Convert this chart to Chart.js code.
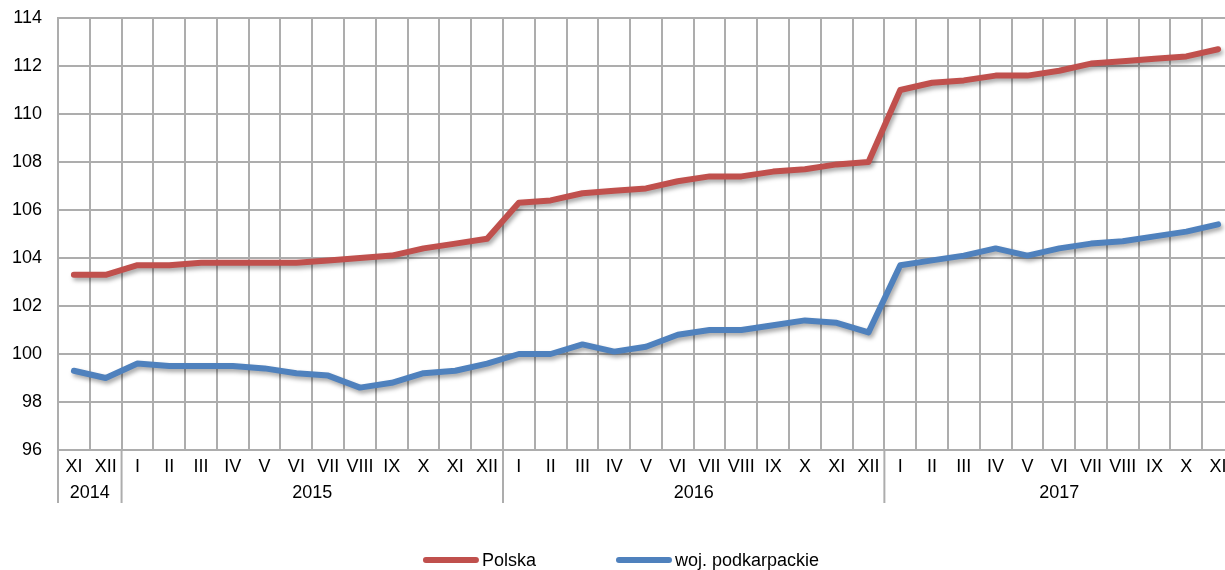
<!DOCTYPE html>
<html>
<head>
<meta charset="utf-8">
<script src="https://cdn.jsdelivr.net/npm/chart.js@4"></script>
<style>
  html, body { margin: 0; padding: 0; background: #fff; overflow: hidden; }
  #wrap { width: 1236px; height: 570px; }
</style>
</head>
<body>
<div id="wrap"><canvas id="chart"></canvas></div>
<script>
// months on the x axis, grouped by year
const months = ['XI', 'XII',
  'I', 'II', 'III', 'IV', 'V', 'VI', 'VII', 'VIII', 'IX', 'X', 'XI', 'XII',
  'I', 'II', 'III', 'IV', 'V', 'VI', 'VII', 'VIII', 'IX', 'X', 'XI', 'XII',
  'I', 'II', 'III', 'IV', 'V', 'VI', 'VII', 'VIII', 'IX', 'X', 'XI'];
const years = ['2014', '2015', '2016', '2017'];
const yearSpans = [2, 12, 12, 11];

const polska = [103.3, 103.3,
  103.7, 103.7, 103.8, 103.8, 103.8, 103.8, 103.9, 104.0, 104.1, 104.4, 104.6, 104.8,
  106.3, 106.4, 106.7, 106.8, 106.9, 107.2, 107.4, 107.4, 107.6, 107.7, 107.9, 108.0,
  111.0, 111.3, 111.4, 111.6, 111.6, 111.8, 112.1, 112.2, 112.3, 112.4, 112.7];
const podkarpackie = [99.3, 99.0,
  99.6, 99.5, 99.5, 99.5, 99.4, 99.2, 99.1, 98.6, 98.8, 99.2, 99.3, 99.6,
  100.0, 100.0, 100.4, 100.1, 100.3, 100.8, 101.0, 101.0, 101.2, 101.4, 101.3, 100.9,
  103.7, 103.9, 104.1, 104.4, 104.1, 104.4, 104.6, 104.7, 104.9, 105.1, 105.4];

const gridColor = '#ADADAD';
const fontFamily = "'Liberation Sans', Arial, sans-serif";
Chart.defaults.font.family = fontFamily;
Chart.defaults.color = '#000';

// soft drop shadow under the lines
const shadowPlugin = {
  id: 'shadow',
  beforeDatasetDraw(chart) {
    const ctx = chart.ctx;
    ctx.save();
    ctx.shadowColor = 'rgba(0,0,0,0.35)';
    ctx.shadowBlur = 4;
    ctx.shadowOffsetX = 2;
    ctx.shadowOffsetY = 3;
  },
  afterDatasetDraw(chart) {
    chart.ctx.restore();
  }
};

// year row under the month labels + legend
const extrasPlugin = {
  id: 'extras',
  afterDraw(chart) {
    const ctx = chart.ctx;
    const x = chart.scales.x;
    const area = chart.chartArea;
    const step = x.width / months.length;

    ctx.save();
    ctx.strokeStyle = gridColor;
    ctx.lineWidth = 2;
    ctx.font = '18px ' + fontFamily;
    ctx.fillStyle = '#000';
    ctx.textAlign = 'center';
    ctx.textBaseline = 'middle';
    let start = 0;
    years.forEach((yr, i) => {
      const left = x.left + start * step;
      ctx.beginPath();
      ctx.moveTo(left, area.bottom);
      ctx.lineTo(left, area.bottom + 53);
      ctx.stroke();
      const right = x.left + (start + yearSpans[i]) * step;
      ctx.fillText(yr, (left + right) / 2, area.bottom + 43);
      start += yearSpans[i];
    });

    // legend
    const items = chart.data.datasets.map(ds => ({
      label: ds.label, color: ds.borderColor,
      w: 59 + ctx.measureText(ds.label).width
    }));
    const gap = 80;
    const total = items.reduce((s, it) => s + it.w, 0) + gap * (items.length - 1);
    let cx = 621 - total / 2;
    const ly = 560;
    ctx.textAlign = 'left';
    ctx.lineCap = 'round';
    items.forEach(it => {
      ctx.strokeStyle = it.color;
      ctx.lineWidth = 6;
      ctx.beginPath();
      ctx.moveTo(cx + 3, ly);
      ctx.lineTo(cx + 53, ly);
      ctx.stroke();
      ctx.fillText(it.label, cx + 59, ly + 1);
      cx += it.w + gap;
    });
    ctx.restore();
  }
};

new Chart(document.getElementById('chart'), {
  type: 'line',
  data: {
    labels: months,
    datasets: [{
      label: 'Polska',
      data: polska,
      borderColor: '#C0504D',
      backgroundColor: '#C0504D',
      borderWidth: 6,
      pointRadius: 0,
      tension: 0,
      borderJoinStyle: 'round',
      borderCapStyle: 'round'
    }, {
      label: 'woj. podkarpackie',
      data: podkarpackie,
      borderColor: '#4F81BD',
      backgroundColor: '#4F81BD',
      borderWidth: 6,
      pointRadius: 0,
      tension: 0,
      borderJoinStyle: 'round',
      borderCapStyle: 'round'
    }]
  },
  options: {
    responsive: true,
    maintainAspectRatio: false,
    animation: false,
    layout: { padding: { top: 18, right: 2, bottom: 60, left: 0 } },
    plugins: {
      legend: { display: false },
      tooltip: { enabled: false }
    },
    scales: {
      x: {
        offset: true,
        grid: { offset: true, color: gridColor, lineWidth: 2, drawTicks: false },
        border: { color: gridColor, width: 2 },
        ticks: { font: { size: 18 }, color: '#000', padding: 6, maxRotation: 0, autoSkip: false },
        afterFit(scale) { scale.height = 60; }
      },
      y: {
        min: 96,
        max: 114,
        ticks: { stepSize: 2, font: { size: 18 }, color: '#000', padding: 16 },
        grid: { color: gridColor, lineWidth: 2, drawTicks: false },
        border: { color: gridColor, width: 2 },
        afterFit(scale) {
          scale.width = 58;
          scale.paddingTop = 0;
          scale.paddingBottom = 0;
        }
      }
    }
  },
  plugins: [shadowPlugin, extrasPlugin]
});
</script>
</body>
</html>
